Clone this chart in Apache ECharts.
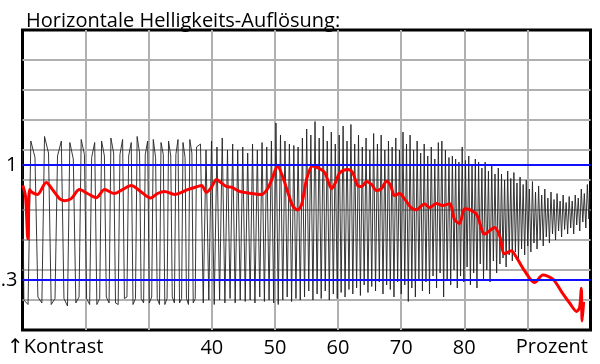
<!DOCTYPE html>
<html>
<head>
<meta charset="utf-8">
<script src="https://cdn.jsdelivr.net/npm/echarts@6/dist/echarts.min.js"></script>
<style>html,body{margin:0;padding:0;background:#fff}#c{width:600px;height:364px}</style>
</head>
<body>
<div id="c"></div>
<script>
// ---- data ----
const titleText = 'Horizontale Helligkeits-Auflösung:';
const xTickLabels = ['', '', '', '40', '50', '60', '70', '80', '', ''];   // ticks at 10,20,...,100
const xLeftLabel = '\u2191Kontrast';
const xRightLabel = 'Prozent';
const refLevels = [5.5, 1.667];          // positions of the blue reference lines on the level scale
const refLabels = ['1', '.3'];

// measured response (black), [percent, level]
const blackTrace = [
[10.00,6.0],
[10.22,1.0],[10.88,0.85],[11.32,6.3],[11.98,5.75],
[12.44,1.1],[13.07,0.9],[13.49,6.45],[14.12,5.9],
[14.55,0.85],[15.15,1.05],[15.55,5.8],[16.15,6.3],
[16.57,1.05],[17.13,0.8],[17.50,6.25],[18.05,5.7],
[18.45,0.9],[18.96,1.1],[19.30,6.35],[19.81,5.85],
[20.16,1.05],[20.64,0.85],[20.96,5.75],[21.44,6.25],
[21.78,0.85],[22.23,1.05],[22.53,6.3],[22.98,5.8],
[23.28,1.1],[23.72,0.9],[24.01,6.4],[24.44,5.9],
[24.74,0.9],[25.16,0.85],[25.44,5.85],[25.86,6.35],
[26.15,1.05],[26.55,1.1],[26.82,5.8],[27.23,6.25],
[27.51,0.85],[27.90,1.05],[28.16,6.45],[28.55,5.9],
[28.81,1.05],[29.19,0.9],[29.45,5.85],[29.83,6.3],
[30.09,0.9],[30.47,1.1],[30.72,6.35],[31.09,5.75],
[31.35,1.05],[31.71,0.85],[31.95,6.25],[32.31,5.85],
[32.55,0.85],[32.91,1.05],[33.14,6.3],[33.49,5.8],
[33.73,1.1],[34.07,0.9],[34.30,5.85],[34.64,6.35],
[34.88,0.9],[35.21,1.05],[35.43,6.25],[35.76,5.75],
[35.98,1.05],[36.30,0.85],[36.51,6.35],[36.84,5.9],
[37.05,0.9],[37.37,1.05],[37.58,6.1],
[38.20,6.2],[38.64,0.9],[39.08,6.0],[39.52,1.0],[39.95,6.3],[40.38,0.85],[40.81,6.1],[41.23,1.0],[41.65,6.4],[42.07,0.9],[42.48,6.0],[42.89,1.05],[43.30,6.2],[43.70,0.9],[44.10,6.0],[44.50,1.0],[44.90,6.1],[45.29,0.95],[45.68,5.9],[46.07,1.0],
[46.45,6.2],[46.83,0.9],[47.21,6.0],[47.59,1.1],[47.96,6.25],[48.33,0.95],[48.70,6.1],[49.07,1.0],[49.44,6.3],[49.80,0.9],[50.16,6.9],[50.52,0.85],[50.88,6.5],[51.24,1.0],[51.59,6.3],[51.94,1.1],[52.29,6.2],[52.64,0.95],[52.99,6.15],[53.33,1.05],[53.67,6.1],[54.01,1.0],
[54.35,6.4],[54.69,1.1],[55.03,6.7],[55.36,1.3],[55.69,6.5],[56.02,1.0],[56.35,6.95],[56.68,1.2],[57.01,6.4],[57.33,1.05],[57.65,6.8],[57.97,1.3],[58.29,6.3],[58.61,1.0],[58.93,6.6],[59.25,1.2],[59.56,6.2],[59.87,1.05],[60.18,6.5],[60.49,1.25],[60.80,6.8],[61.11,1.1],[61.42,6.3],[61.73,1.35],
[62.04,6.85],[62.34,1.2],[62.64,6.2],[62.94,1.4],[63.24,6.5],[63.54,1.15],[63.84,6.1],[64.14,1.5],[64.44,6.4],[64.74,1.25],[65.04,6.0],[65.34,1.45],[65.64,6.55],[65.94,1.3],[66.24,6.2],[66.54,1.6],[66.83,6.5],[67.12,1.2],[67.41,6.0],[67.70,1.5],[67.99,6.3],[68.28,1.35],[68.57,6.1],[68.86,1.1],[69.15,6.4],[69.44,1.6],
[69.73,6.0],[70.01,1.2],[70.29,6.6],[70.57,1.5],[70.85,6.2],[71.13,0.95],[71.41,6.5],[71.69,1.4],[71.97,6.0],[72.25,1.1],[72.53,6.3],[72.81,1.7],[73.09,5.9],[73.37,1.3],[73.65,6.2],[73.93,1.6],[74.21,5.8],[74.49,1.2],[74.77,6.1],[75.05,1.8],[75.33,5.7],[75.61,1.4],[75.89,6.25],[76.17,1.9],[76.45,6.3],[76.73,1.1],[77.01,6.0],[77.29,1.7],[77.57,5.75],[77.85,1.5],
[78.11,5.8],[78.37,2.0],[78.63,5.7],[78.89,1.4],[79.15,5.6],[79.41,1.8],[79.67,6.1],[79.93,1.6],[80.19,5.65],[80.45,2.1],[80.71,5.8],[80.97,1.5],[81.23,5.5],[81.49,1.9],[81.75,5.7],[82.01,1.4],[82.27,5.6],[82.53,2.2],[82.79,5.4],[83.05,1.7],[83.31,5.6],[83.57,2.0],[83.83,5.3],[84.09,1.6],[84.35,5.5],[84.61,2.3],[84.87,5.2],[85.13,1.9],[85.39,5.4],[85.65,2.2],
[85.90,5.2],[86.14,2.4],[86.39,5.0],[86.63,2.1],[86.88,5.3],[87.12,2.5],[87.37,5.05],[87.61,2.3],[87.86,5.25],[88.10,2.6],[88.35,4.9],[88.59,2.35],[88.84,5.1],[89.08,2.7],[89.33,4.85],[89.57,2.5],[89.82,5.0],[90.06,2.8],[90.31,4.7],[90.55,2.6],[90.80,4.95],[91.04,2.9],[91.29,4.6],[91.53,2.7],[91.78,4.8],[92.02,3.0],[92.27,4.5],[92.51,2.8],[92.76,4.7],[93.00,3.1],[93.25,4.4],[93.49,2.9],[93.74,4.6],[93.98,3.2],
[94.22,4.35],[94.46,3.0],[94.70,4.55],[94.94,3.3],[95.18,4.3],[95.42,3.1],[95.66,4.5],[95.90,3.35],[96.14,4.25],[96.38,3.2],[96.62,4.45],[96.86,3.4],[97.10,4.3],[97.34,3.2],[97.58,4.5],[97.82,3.5],[98.06,4.4],[98.30,3.3],[98.54,4.7],[98.78,3.6],[99.02,4.55],[99.26,3.4],[99.50,4.85],[99.74,3.7],[99.95,4.6]
];

// averaged contrast (red), [percent, level]
const redTrace = [
[10.05,4.82],[10.48,4.45],[10.84,3.04],[11.11,4.68],[11.58,4.58],[12.38,4.52],[13.76,4.92],[14.75,4.68],[15.86,4.38],[16.66,4.31],[17.72,4.38],[19.03,4.68],[20.30,4.55],[21.68,4.41],[23.00,4.68],[24.58,4.55],[25.85,4.68],[27.23,4.82],[28.70,4.62],[30.29,4.40],[31.39,4.55],[32.50,4.62],[34.09,4.52],[36.15,4.68],[37.73,4.78],[38.37,4.82],[39.16,4.59],[39.95,4.76],[40.75,5.02],[41.38,4.92],[42.33,4.78],[43.12,4.76],[44.39,4.62],[45.97,4.56],[47.88,4.52],[48.83,4.71],[49.62,5.08],[50.41,5.47],[51.21,5.12],[52.00,4.62],[52.79,4.15],[53.58,4.00],[54.22,4.18],[55.01,5.02],[55.96,5.47],[57.07,5.38],[57.86,5.26],[58.49,4.92],[58.97,4.71],[59.60,4.92],[60.24,5.23],[61.51,5.35],[62.30,5.25],[63.09,4.82],[63.73,4.78],[64.52,4.95],[65.31,4.85],[66.10,4.65],[66.90,4.72],[67.69,4.96],[68.32,4.82],[68.96,4.48],[69.75,4.55],[70.54,4.37],[71.60,4.07],[72.39,4.01],[73.71,4.20],[74.50,4.08],[75.56,4.22],[76.56,4.15],[77.67,4.21],[78.46,3.68],[79.25,3.55],[80.05,4.04],[80.84,4.01],[81.95,3.85],[83.22,3.20],[84.01,3.31],[84.80,3.42],[85.60,3.14],[86.39,2.54],[87.45,2.64],[88.29,2.41],[89.56,1.97],[91.14,1.58],[92.46,1.83],[94.04,1.70],[95.42,1.27],[96.69,0.90],[97.80,0.62],[98.27,0.75],[98.54,1.39],[98.67,0.30],[98.91,0.94]
];

// ---- chart ----
const FONT = 'Open Sans';
const chart = echarts.init(document.getElementById('c'), null, {renderer: 'canvas'});
const splitStyle = {show: true, showMinLine: false, showMaxLine: false, lineStyle: {color: '#b0b0b0', width: 2}};
chart.setOption({
  animation: false,
  backgroundColor: '#fff',
  title: {
    text: titleText, left: 21, top: 6,
    textStyle: {fontFamily: FONT, fontSize: 20, fontWeight: 'normal', color: '#000'}
  },
  grid: {left: 22.5, right: 9.5, top: 30, bottom: 34, show: true, borderColor: '#000', borderWidth: 3, backgroundColor: '#fff'},
  xAxis: {
    type: 'value', min: 10, max: 100, interval: 10,
    axisLine: {show: false}, axisTick: {show: false},
    splitLine: splitStyle,
    axisLabel: {
      margin: 8, color: '#000', fontFamily: FONT, fontSize: 20,
      formatter: v => xTickLabels[Math.round((v - 10) / 10)] || ''
    }
  },
  yAxis: {
    type: 'value', min: 0, max: 10, interval: 1,
    axisLine: {show: false}, axisTick: {show: false}, axisLabel: {show: false},
    splitLine: splitStyle
  },
  graphic: [
    {type: 'text', left: 7, top: 337, style: {text: xLeftLabel, font: '20px "' + FONT + '", "DejaVu Sans"', fill: '#000'}},
    {type: 'text', right: 12, top: 337, style: {text: xRightLabel, font: '20px "' + FONT + '"', fill: '#000'}}
  ],
  series: [
    {
      type: 'line', data: blackTrace, showSymbol: false, symbol: 'none', z: 2,
      lineStyle: {color: '#222', width: 0.9}, silent: true
    },
    {
      type: 'line', data: [], z: 3, silent: true,
      markLine: {
        silent: true, symbol: ['none', 'none'], animation: false,
        lineStyle: {color: '#1010ff', width: 2, type: 'solid'},
        label: {position: 'start', distance: 5, color: '#000', fontFamily: FONT, fontSize: 20,
                formatter: p => refLabels[p.dataIndex]},
        data: refLevels.map(v => ({yAxis: v}))
      }
    },
    {
      type: 'line', data: redTrace, showSymbol: false, symbol: 'none', z: 4, smooth: 0.3,
      lineStyle: {color: '#ff0000', width: 3}, silent: true
    }
  ]
});
</script>
</body>
</html>
